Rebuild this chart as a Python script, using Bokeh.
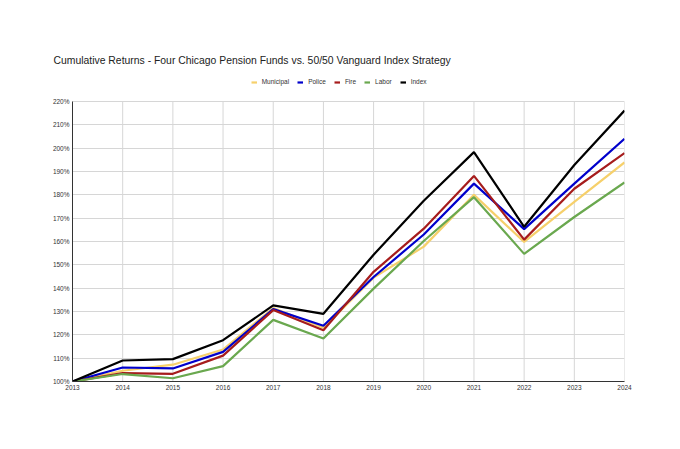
from bokeh.plotting import figure
from bokeh.models import Legend, LegendItem, FixedTicker, PrintfTickFormatter, Range1d
from bokeh.embed import file_html
from bokeh.resources import INLINE

years = [2013, 2014, 2015, 2016, 2017, 2018, 2019, 2020, 2021, 2022, 2023, 2024]
municipal = [100, 104.6, 107.2, 113.7, 131.5, 123.0, 144.5, 157.8, 180.0, 159.8, 177.0, 193.9]
police = [100, 106.0, 105.6, 112.7, 131.0, 123.9, 144.8, 163.0, 184.8, 165.3, 184.8, 204.0]
fire = [100, 103.6, 103.3, 111.1, 130.6, 122.0, 147.0, 165.5, 188.1, 160.8, 182.6, 197.9]
labor = [100, 103.2, 101.4, 106.6, 126.4, 118.4, 139.8, 160.2, 179.0, 154.7, 170.5, 185.3]
index_fund = [100, 109.0, 109.6, 117.7, 132.6, 129.0, 154.3, 177.5, 198.3, 166.3, 192.8, 216.1]

series_names = ["Municipal", "Police", "Fire", "Labor", "Index"]
series_values = [municipal, police, fire, labor, index_fund]
series_colors = ["#f6d06b", "#0000cc", "#a61c1c", "#6aa84f", "#000000"]
y_ticks = list(range(100, 221, 10))

FONT = "Liberation Sans"
GRID = "#d6d6d6"

# frame: top at 70px, 220% line at 101px, 100% line at 381px
Y_MIN, Y_TOP = y_ticks[0], y_ticks[-1]
Y_MAX = Y_TOP + (101 - 70) * (Y_TOP - Y_MIN) / 280.0

p = figure(
    width=680, height=449,
    min_border_left=72, min_border_right=56, min_border_top=70, min_border_bottom=68,
    x_range=Range1d(years[0], years[-1]), y_range=Range1d(Y_MIN, Y_MAX),
    output_backend="svg", toolbar_location=None,
    title="Cumulative Returns - Four Chicago Pension Funds vs. 50/50 Vanguard Index Strategy",
)
p.outline_line_color = None
p.background_fill_color = "white"
p.border_fill_color = "white"

p.title.text_font = FONT
p.title.text_font_size = "10.4px"
p.title.text_font_style = "normal"
p.title.text_color = "#222222"
p.title.align = "left"
p.title.offset = -19

# vertical grid lines limited to the 100%..220% band
p.segment(x0=years, y0=[Y_MIN] * len(years), x1=years, y1=[Y_TOP] * len(years),
          line_color=GRID, line_width=1, level="underlay")
p.xgrid.visible = False
p.ygrid.grid_line_color = GRID
p.ygrid.grid_line_width = 1

items = []
for name, vals, col in zip(series_names, series_values, series_colors):
    r = p.line(years, vals, line_color=col, line_width=2.2)
    items.append(LegendItem(label=name, renderers=[r]))

legend = Legend(items=items, orientation="horizontal", location=(178.7, 295.5),
                label_text_font=FONT, label_text_font_size="6.5px", label_text_color="#333333",
                glyph_width=6, glyph_height=8, label_height=8, label_width=0, label_standoff=5,
                spacing=8, padding=0, margin=0, border_line_color=None,
                background_fill_alpha=0)
p.add_layout(legend)

p.xaxis.ticker = FixedTicker(ticks=years)
p.yaxis.ticker = FixedTicker(ticks=y_ticks)
p.yaxis.formatter = PrintfTickFormatter(format="%d%%")
p.yaxis.bounds = (Y_MIN, Y_TOP)
for ax in (p.xaxis, p.yaxis):
    ax.axis_line_color = "#333333"
    ax.axis_line_width = 1
    ax.major_tick_line_color = None
    ax.minor_tick_line_color = None
    ax.major_tick_out = 0
    ax.major_tick_in = 0
    ax.minor_tick_out = 0
    ax.minor_tick_in = 0
    ax.major_label_text_font = FONT
    ax.major_label_text_font_size = "6.5px"
    ax.major_label_text_color = "#333333"
    ax.major_label_standoff = 3

open("out.html", "w").write(file_html(p, INLINE))
